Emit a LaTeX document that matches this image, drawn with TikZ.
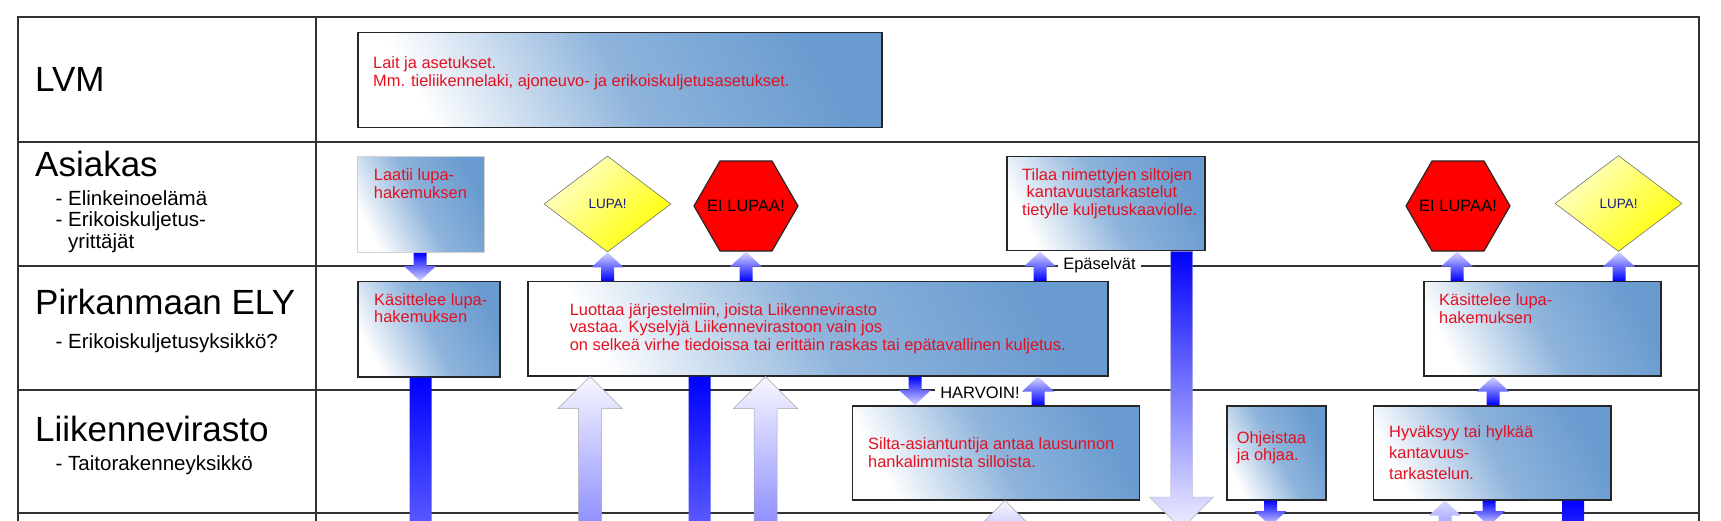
\documentclass[tikz,border=0pt]{standalone}
\usepackage{fontspec}
\setmainfont{Liberation Sans}
\usepackage{tikz}
\usetikzlibrary{calc,shapes.geometric}
\usepackage{xcolor}

\definecolor{boxblue}{RGB}{105,155,208}
\definecolor{txtred}{RGB}{228,16,32}
\definecolor{lupablue}{RGB}{25,25,140}
\definecolor{gridgray}{RGB}{50,50,50}

\newcommand{\lanefont}{\fontsize{35}{42}\selectfont}
\newcommand{\subfont}{\fontsize{20.5}{21.7}\selectfont}
\newcommand{\redfont}{\fontsize{16.4}{17.7}\selectfont}
\newcommand{\tagfont}{\fontsize{16.5}{18}\selectfont}

% vertical block arrow: style, x, from (y), to (y)
\newcommand{\blockarr}[4]{%
  \path[#1] let \p1=(#2,0), \p2=(#3), \p3=(#4),
      \n1={ifthenelse(\y3>\y2,1,-1)}, \n2={\y3-(\n1)*\ahl} in
    ({\x1-\aw},\y2) -- ({\x1-\aw},{\n2*1pt}) -- ({\x1-\ahw},{\n2*1pt}) -- (\x1,\y3)
    -- ({\x1+\ahw},{\n2*1pt}) -- ({\x1+\aw},{\n2*1pt}) -- ({\x1+\aw},\y2) -- cycle;}

\begin{document}
\begin{tikzpicture}[x=1pt, y=-1pt,
    grid/.style={line width=2pt, draw=gridgray},
    box/.style={draw=black!85, line width=1.5pt, top color=boxblue, bottom color=white,
      middle color=boxblue!75!white, shading angle=-62, anchor=north west, inner sep=0pt,
      font=\redfont, text=txtred, align=left},
    redtxt/.style={font=\redfont, text=txtred, align=left, inner sep=0pt},
    lane/.style={font=\lanefont, anchor=base west, inner sep=0pt},
    sub/.style={font=\subfont, align=left, inner sep=0pt},
    lupa/.style={diamond, draw=black!55, line width=0.6pt, top color=yellow!20, bottom color=yellow,
      shading angle=45, minimum width=127pt, minimum height=96pt, inner sep=0pt,
      font=\fontsize{13.5}{15}\selectfont, text=lupablue},
    eilupa/.style={regular polygon, regular polygon sides=6, minimum size=104pt, inner sep=0pt,
      fill=red, draw=black!85, line width=1.2pt, font=\fontsize{16.5}{18}\selectfont},
    tag/.style={fill=white, font=\tagfont, inner xsep=5pt, inner ysep=1pt, anchor=base},
    thinup/.style={top color=blue!15, bottom color=blue,
      /utils/exec={\def\aw{6.5pt}\def\ahw{16pt}\def\ahl{15pt}}},
    thindown/.style={top color=blue, bottom color=blue!15,
      /utils/exec={\def\aw{6.5pt}\def\ahw{16pt}\def\ahl{15pt}}},
    longdown/.style={top color=blue, bottom color=blue!47,
      /utils/exec={\def\aw{11pt}\def\ahw{32pt}\def\ahl{32pt}}},
    bigup/.style={top color=blue!3, bottom color=blue!65, draw=gray!70, line width=0.5pt,
      /utils/exec={\def\aw{11.5pt}\def\ahw{32pt}\def\ahl{32pt}}},
    bigdown/.style={top color=blue, bottom color=blue!6, draw=gray!60, line width=0.4pt,
      /utils/exec={\def\aw{11pt}\def\ahw{32pt}\def\ahl{32pt}}}
]
\useasboundingbox (0,0) rectangle (1721,521);
\clip (0,0) rectangle (1721,521);

% Lanes
\draw[grid] (18,640) -- (18,17) -- (1699,17) -- (1699,640);
\draw[grid] (316,17) -- (316,640);
\draw[grid] (18,142) -- (1699,142);
\draw[grid] (18,266) -- (1699,266);
\draw[grid] (18,390) -- (1699,390);
\draw[grid] (18,513) -- (1699,513);

\node[lane] (lvm) at (35,92) {LVM};
\node[lane] (asiakas) at (35,177) {Asiakas};
\node[sub, anchor=north west] (asiakassub) at (55.5,190.2) {- Elinkeinoelämä\\- Erikoiskuljetus-\\\phantom{- }yrittäjät};
\node[lane] (ely) at (35,315) {Pirkanmaan ELY};
\node[sub, anchor=base west] (elysub) at (55.5,348) {- Erikoiskuljetusyksikkö?};
\node[lane] (lv) at (35,441.7) {Liikennevirasto};
\node[sub, anchor=base west] (lvsub) at (55.5,470.5) {- Taitorakenneyksikkö};

% LVM
\node[box, minimum width=524pt, minimum height=95pt] (lait) at (357,32) {};
\node[redtxt, anchor=north west] (laittxt) at ([shift={(16pt,-24.5pt)}]lait.north west)
  {Lait ja asetukset.\\Mm. tieliikennelaki, ajoneuvo- ja erikoiskuljetusasetukset.};

% Asiakas
\node[box, draw=gray!35, line width=1pt, minimum width=127pt, minimum height=96pt] (laatii) at (356.7,156) {};
\node[redtxt, anchor=north west] (laatiitxt) at ([shift={(17pt,-12.5pt)}]laatii.north west) {Laatii lupa-\\hakemuksen};
\node[lupa] (lupa1) at (607.5,204) {LUPA!};
\node[eilupa] (eil1) at (746,206) {\makebox[0pt]{EI LUPAA!}};
\node[box, minimum width=198pt, minimum height=94pt] (tilaa) at (1006,156) {};
\node[redtxt, anchor=north west] (tilaatxt) at ([shift={(16pt,-12pt)}]tilaa.north west)
  {Tilaa nimettyjen siltojen\\\hspace*{4.5pt}kantavuustarkastelut\\tietylle kuljetuskaaviolle.};
\node[eilupa] (eil2) at (1458,206) {\makebox[0pt]{EI LUPAA!}};
\node[lupa] (lupa2) at (1618.5,203.5) {LUPA!};

% Pirkanmaan ELY
\node[box, minimum width=142pt, minimum height=95pt] (kas1) at (357,281) {};
\node[redtxt, anchor=north west] (kas1txt) at ([shift={(17pt,-12pt)}]kas1.north west) {Käsittelee lupa-\\hakemuksen};
\node[box, minimum width=580pt, minimum height=94pt] (luot) at (527,281)
  {Luottaa järjestelmiin, joista Liikennevirasto\\vastaa. Kyselyjä Liikennevirastoon vain jos\\on selkeä virhe tiedoissa tai erittäin raskas tai epätavallinen kuljetus.};
\node[box, minimum width=237pt, minimum height=94pt] (kas2) at (1423,281) {};
\node[redtxt, anchor=north west] (kas2txt) at ([shift={(16pt,-12.5pt)}]kas2.north west) {Käsittelee lupa-\\hakemuksen};

% Liikennevirasto
\node[box, minimum width=287pt, minimum height=94pt] (silta) at (851.5,405) {};
\node[redtxt, anchor=west] (siltatxt) at ([xshift=16.5pt]silta.west) {Silta-asiantuntija antaa lausunnon\\hankalimmista silloista.};
\node[box, minimum width=99pt, minimum height=94pt] (ohje) at (1226,405) {};
\node[redtxt, anchor=west] (ohjetxt) at ([shift={(10.6pt,5pt)}]ohje.west) {Ohjeistaa\\ja ohjaa.};
\node[box, minimum width=237.5pt, minimum height=94pt] (hyv) at (1372.5,405) {};
\node[redtxt, anchor=west] (hyvtxt) at ([xshift=16.5pt]hyv.west) {Hyväksyy tai hylkää\\[3pt]kantavuus-\\[3pt]tarkastelun.};

% Labels on the lane lines
\node[tag] (epa) at (1099.5,269.5) {Epäselvät};
\node[tag] (harv) at (980,398) {HARVOIN!};

% Ends below the picture
\coordinate (low) at (0,526);
\coordinate (deep) at (0,600);
\coordinate (tilaatip) at (0,529);

% Arrows
\blockarr{thindown}{420}{laatii.south}{kas1.north}
\blockarr{thinup}{607.5}{luot.north}{lupa1.south}
\blockarr{thinup}{746}{luot.north}{eil1.south}
\blockarr{thinup}{1040}{luot.north}{tilaa.south}
\blockarr{longdown}{420.5}{kas1.south}{deep}
\blockarr{longdown}{699.5}{luot.south}{deep}
\blockarr{bigup}{590}{deep}{luot.south}
\blockarr{bigup}{765.5}{deep}{luot.south}
\blockarr{thindown}{915}{luot.south}{silta.north}
\blockarr{thinup}{1038}{silta.north}{luot.south}
\blockarr{bigup}{1005}{deep}{silta.south}
\blockarr{bigdown}{1181.5}{tilaa.south}{tilaatip}
\blockarr{thindown}{1270.5}{ohje.south}{low}
\blockarr{thinup}{1445}{deep}{hyv.south}
\blockarr{thindown}{1489}{hyv.south}{low}
\blockarr{longdown}{1573}{hyv.south}{deep}
\blockarr{thinup}{1493}{hyv.north}{kas2.south}
\blockarr{thinup}{1457}{kas2.north}{eil2.south}
\blockarr{thinup}{1619}{kas2.north}{lupa2.south}

\end{tikzpicture}
\end{document}
